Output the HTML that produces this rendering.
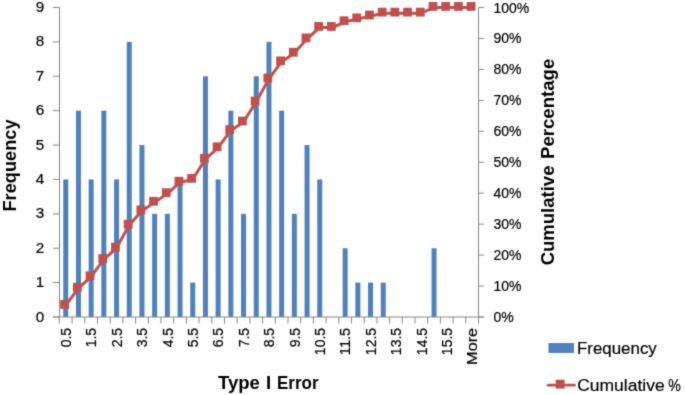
<!DOCTYPE html><html><head><meta charset="utf-8"><style>html,body{margin:0;padding:0;background:#fff;}svg{display:block;}text{font-family:"Liberation Sans",sans-serif;}</style></head><body>
<svg width="685" height="395" viewBox="0 0 685 395">
<defs><filter id="bl" filterUnits="userSpaceOnUse" x="-10" y="-10" width="705" height="415" color-interpolation-filters="sRGB"><feConvolveMatrix order="3" kernelMatrix="0.03 0.09 0.03 0.09 0.52 0.09 0.03 0.09 0.03" edgeMode="duplicate" preserveAlpha="true"/></filter></defs>
<g filter="url(#bl)">
<rect x="-10" y="-10" width="705" height="415" fill="#fff"/>
<rect x="63.25" y="179.44" width="5.0" height="137.56" fill="#4F81BD"/>
<rect x="75.95" y="110.67" width="5.0" height="206.33" fill="#4F81BD"/>
<rect x="88.65" y="179.44" width="5.0" height="137.56" fill="#4F81BD"/>
<rect x="101.35" y="110.67" width="5.0" height="206.33" fill="#4F81BD"/>
<rect x="114.05" y="179.44" width="5.0" height="137.56" fill="#4F81BD"/>
<rect x="126.75" y="41.89" width="5.0" height="275.11" fill="#4F81BD"/>
<rect x="139.45" y="145.06" width="5.0" height="171.94" fill="#4F81BD"/>
<rect x="152.15" y="213.83" width="5.0" height="103.17" fill="#4F81BD"/>
<rect x="164.85" y="213.83" width="5.0" height="103.17" fill="#4F81BD"/>
<rect x="177.55" y="179.44" width="5.0" height="137.56" fill="#4F81BD"/>
<rect x="190.25" y="282.61" width="5.0" height="34.39" fill="#4F81BD"/>
<rect x="202.95" y="76.28" width="5.0" height="240.72" fill="#4F81BD"/>
<rect x="215.65" y="179.44" width="5.0" height="137.56" fill="#4F81BD"/>
<rect x="228.35" y="110.67" width="5.0" height="206.33" fill="#4F81BD"/>
<rect x="241.05" y="213.83" width="5.0" height="103.17" fill="#4F81BD"/>
<rect x="253.75" y="76.28" width="5.0" height="240.72" fill="#4F81BD"/>
<rect x="266.45" y="41.89" width="5.0" height="275.11" fill="#4F81BD"/>
<rect x="279.15" y="110.67" width="5.0" height="206.33" fill="#4F81BD"/>
<rect x="291.85" y="213.83" width="5.0" height="103.17" fill="#4F81BD"/>
<rect x="304.55" y="145.06" width="5.0" height="171.94" fill="#4F81BD"/>
<rect x="317.25" y="179.44" width="5.0" height="137.56" fill="#4F81BD"/>
<rect x="342.65" y="248.22" width="5.0" height="68.78" fill="#4F81BD"/>
<rect x="355.35" y="282.61" width="5.0" height="34.39" fill="#4F81BD"/>
<rect x="368.05" y="282.61" width="5.0" height="34.39" fill="#4F81BD"/>
<rect x="380.75" y="282.61" width="5.0" height="34.39" fill="#4F81BD"/>
<rect x="431.55" y="248.22" width="5.0" height="68.78" fill="#4F81BD"/>
<g stroke="#868686" stroke-width="1" fill="none">
<line x1="59.5" y1="7.5" x2="59.5" y2="317.0"/>
<line x1="478.5" y1="7.5" x2="478.5" y2="317.0"/>
<line x1="53" y1="317.0" x2="484" y2="317.0"/>
<line x1="53" y1="317.00" x2="59.5" y2="317.00"/>
<line x1="53" y1="282.61" x2="59.5" y2="282.61"/>
<line x1="53" y1="248.22" x2="59.5" y2="248.22"/>
<line x1="53" y1="213.83" x2="59.5" y2="213.83"/>
<line x1="53" y1="179.44" x2="59.5" y2="179.44"/>
<line x1="53" y1="145.06" x2="59.5" y2="145.06"/>
<line x1="53" y1="110.67" x2="59.5" y2="110.67"/>
<line x1="53" y1="76.28" x2="59.5" y2="76.28"/>
<line x1="53" y1="41.89" x2="59.5" y2="41.89"/>
<line x1="53" y1="7.50" x2="59.5" y2="7.50"/>
<line x1="478.5" y1="317.00" x2="484" y2="317.00"/>
<line x1="478.5" y1="286.05" x2="484" y2="286.05"/>
<line x1="478.5" y1="255.10" x2="484" y2="255.10"/>
<line x1="478.5" y1="224.15" x2="484" y2="224.15"/>
<line x1="478.5" y1="193.20" x2="484" y2="193.20"/>
<line x1="478.5" y1="162.25" x2="484" y2="162.25"/>
<line x1="478.5" y1="131.30" x2="484" y2="131.30"/>
<line x1="478.5" y1="100.35" x2="484" y2="100.35"/>
<line x1="478.5" y1="69.40" x2="484" y2="69.40"/>
<line x1="478.5" y1="38.45" x2="484" y2="38.45"/>
<line x1="478.5" y1="7.50" x2="484" y2="7.50"/>
<line x1="59.40" y1="317.0" x2="59.40" y2="323.5"/>
<line x1="72.10" y1="317.0" x2="72.10" y2="323.5"/>
<line x1="84.80" y1="317.0" x2="84.80" y2="323.5"/>
<line x1="97.50" y1="317.0" x2="97.50" y2="323.5"/>
<line x1="110.20" y1="317.0" x2="110.20" y2="323.5"/>
<line x1="122.90" y1="317.0" x2="122.90" y2="323.5"/>
<line x1="135.60" y1="317.0" x2="135.60" y2="323.5"/>
<line x1="148.30" y1="317.0" x2="148.30" y2="323.5"/>
<line x1="161.00" y1="317.0" x2="161.00" y2="323.5"/>
<line x1="173.70" y1="317.0" x2="173.70" y2="323.5"/>
<line x1="186.40" y1="317.0" x2="186.40" y2="323.5"/>
<line x1="199.10" y1="317.0" x2="199.10" y2="323.5"/>
<line x1="211.80" y1="317.0" x2="211.80" y2="323.5"/>
<line x1="224.50" y1="317.0" x2="224.50" y2="323.5"/>
<line x1="237.20" y1="317.0" x2="237.20" y2="323.5"/>
<line x1="249.90" y1="317.0" x2="249.90" y2="323.5"/>
<line x1="262.60" y1="317.0" x2="262.60" y2="323.5"/>
<line x1="275.30" y1="317.0" x2="275.30" y2="323.5"/>
<line x1="288.00" y1="317.0" x2="288.00" y2="323.5"/>
<line x1="300.70" y1="317.0" x2="300.70" y2="323.5"/>
<line x1="313.40" y1="317.0" x2="313.40" y2="323.5"/>
<line x1="326.10" y1="317.0" x2="326.10" y2="323.5"/>
<line x1="338.80" y1="317.0" x2="338.80" y2="323.5"/>
<line x1="351.50" y1="317.0" x2="351.50" y2="323.5"/>
<line x1="364.20" y1="317.0" x2="364.20" y2="323.5"/>
<line x1="376.90" y1="317.0" x2="376.90" y2="323.5"/>
<line x1="389.60" y1="317.0" x2="389.60" y2="323.5"/>
<line x1="402.30" y1="317.0" x2="402.30" y2="323.5"/>
<line x1="415.00" y1="317.0" x2="415.00" y2="323.5"/>
<line x1="427.70" y1="317.0" x2="427.70" y2="323.5"/>
<line x1="440.40" y1="317.0" x2="440.40" y2="323.5"/>
<line x1="453.10" y1="317.0" x2="453.10" y2="323.5"/>
<line x1="465.80" y1="317.0" x2="465.80" y2="323.5"/>
<line x1="478.50" y1="317.0" x2="478.50" y2="323.5"/>
</g>
<polyline points="65.55,305.54 78.25,288.34 90.95,276.88 103.65,259.69 116.35,248.22 129.05,225.30 141.75,210.97 154.45,202.37 167.15,193.77 179.85,182.31 192.55,179.44 205.25,159.38 217.95,147.92 230.65,130.73 243.35,122.13 256.05,102.07 268.75,79.14 281.45,61.95 294.15,53.35 306.85,39.02 319.55,27.56 332.25,27.56 344.95,21.83 357.65,18.96 370.35,16.10 383.05,13.23 395.75,13.23 408.45,13.23 421.15,13.23 433.85,7.50 446.55,7.50 459.25,7.50 471.95,7.50" fill="none" stroke="#C0504D" stroke-width="3" stroke-linejoin="round"/>
<rect x="60.25" y="300.04" width="8.8" height="8.8" fill="#C0504D"/>
<rect x="72.95" y="282.84" width="8.8" height="8.8" fill="#C0504D"/>
<rect x="85.65" y="271.38" width="8.8" height="8.8" fill="#C0504D"/>
<rect x="98.35" y="254.19" width="8.8" height="8.8" fill="#C0504D"/>
<rect x="111.05" y="242.72" width="8.8" height="8.8" fill="#C0504D"/>
<rect x="123.75" y="219.80" width="8.8" height="8.8" fill="#C0504D"/>
<rect x="136.45" y="205.47" width="8.8" height="8.8" fill="#C0504D"/>
<rect x="149.15" y="196.87" width="8.8" height="8.8" fill="#C0504D"/>
<rect x="161.85" y="188.27" width="8.8" height="8.8" fill="#C0504D"/>
<rect x="174.55" y="176.81" width="8.8" height="8.8" fill="#C0504D"/>
<rect x="187.25" y="173.94" width="8.8" height="8.8" fill="#C0504D"/>
<rect x="199.95" y="153.88" width="8.8" height="8.8" fill="#C0504D"/>
<rect x="212.65" y="142.42" width="8.8" height="8.8" fill="#C0504D"/>
<rect x="225.35" y="125.23" width="8.8" height="8.8" fill="#C0504D"/>
<rect x="238.05" y="116.63" width="8.8" height="8.8" fill="#C0504D"/>
<rect x="250.75" y="96.57" width="8.8" height="8.8" fill="#C0504D"/>
<rect x="263.45" y="73.64" width="8.8" height="8.8" fill="#C0504D"/>
<rect x="276.15" y="56.45" width="8.8" height="8.8" fill="#C0504D"/>
<rect x="288.85" y="47.85" width="8.8" height="8.8" fill="#C0504D"/>
<rect x="301.55" y="33.52" width="8.8" height="8.8" fill="#C0504D"/>
<rect x="314.25" y="22.06" width="8.8" height="8.8" fill="#C0504D"/>
<rect x="326.95" y="22.06" width="8.8" height="8.8" fill="#C0504D"/>
<rect x="339.65" y="16.33" width="8.8" height="8.8" fill="#C0504D"/>
<rect x="352.35" y="13.46" width="8.8" height="8.8" fill="#C0504D"/>
<rect x="365.05" y="10.60" width="8.8" height="8.8" fill="#C0504D"/>
<rect x="377.75" y="7.73" width="8.8" height="8.8" fill="#C0504D"/>
<rect x="390.45" y="7.73" width="8.8" height="8.8" fill="#C0504D"/>
<rect x="403.15" y="7.73" width="8.8" height="8.8" fill="#C0504D"/>
<rect x="415.85" y="7.73" width="8.8" height="8.8" fill="#C0504D"/>
<rect x="428.55" y="2.00" width="8.8" height="8.8" fill="#C0504D"/>
<rect x="441.25" y="2.00" width="8.8" height="8.8" fill="#C0504D"/>
<rect x="453.95" y="2.00" width="8.8" height="8.8" fill="#C0504D"/>
<rect x="466.65" y="2.00" width="8.8" height="8.8" fill="#C0504D"/>
<g font-size="14" fill="#000" text-anchor="end" stroke="#000" stroke-width="0.2">
<text x="44.2" y="321.60" textLength="8.5" lengthAdjust="spacingAndGlyphs">0</text>
<text x="44.2" y="287.21" textLength="8.5" lengthAdjust="spacingAndGlyphs">1</text>
<text x="44.2" y="252.82" textLength="8.5" lengthAdjust="spacingAndGlyphs">2</text>
<text x="44.2" y="218.43" textLength="8.5" lengthAdjust="spacingAndGlyphs">3</text>
<text x="44.2" y="184.04" textLength="8.5" lengthAdjust="spacingAndGlyphs">4</text>
<text x="44.2" y="149.66" textLength="8.5" lengthAdjust="spacingAndGlyphs">5</text>
<text x="44.2" y="115.27" textLength="8.5" lengthAdjust="spacingAndGlyphs">6</text>
<text x="44.2" y="80.88" textLength="8.5" lengthAdjust="spacingAndGlyphs">7</text>
<text x="44.2" y="46.49" textLength="8.5" lengthAdjust="spacingAndGlyphs">8</text>
<text x="44.2" y="12.10" textLength="8.5" lengthAdjust="spacingAndGlyphs">9</text>
</g>
<g font-size="14" fill="#000" stroke="#000" stroke-width="0.2">
<text x="493.5" y="322.00">0%</text>
<text x="493.5" y="291.05">10%</text>
<text x="493.5" y="260.10">20%</text>
<text x="493.5" y="229.15">30%</text>
<text x="493.5" y="198.20">40%</text>
<text x="493.5" y="167.25">50%</text>
<text x="493.5" y="136.30">60%</text>
<text x="493.5" y="105.35">70%</text>
<text x="493.5" y="74.40">80%</text>
<text x="493.5" y="43.45">90%</text>
<text x="493.5" y="12.50">100%</text>
</g>
<g font-size="14.8" fill="#000" text-anchor="end" stroke="#000" stroke-width="0.2">
<text transform="translate(70.95,327.9) rotate(-90)" textLength="19.46" lengthAdjust="spacingAndGlyphs">0.5</text>
<text transform="translate(96.35,327.9) rotate(-90)" textLength="19.46" lengthAdjust="spacingAndGlyphs">1.5</text>
<text transform="translate(121.75,327.9) rotate(-90)" textLength="19.46" lengthAdjust="spacingAndGlyphs">2.5</text>
<text transform="translate(147.15,327.9) rotate(-90)" textLength="19.46" lengthAdjust="spacingAndGlyphs">3.5</text>
<text transform="translate(172.55,327.9) rotate(-90)" textLength="19.46" lengthAdjust="spacingAndGlyphs">4.5</text>
<text transform="translate(197.95,327.9) rotate(-90)" textLength="19.46" lengthAdjust="spacingAndGlyphs">5.5</text>
<text transform="translate(223.35,327.9) rotate(-90)" textLength="19.46" lengthAdjust="spacingAndGlyphs">6.5</text>
<text transform="translate(248.75,327.9) rotate(-90)" textLength="19.46" lengthAdjust="spacingAndGlyphs">7.5</text>
<text transform="translate(274.15,327.9) rotate(-90)" textLength="19.46" lengthAdjust="spacingAndGlyphs">8.5</text>
<text transform="translate(299.55,327.9) rotate(-90)" textLength="19.46" lengthAdjust="spacingAndGlyphs">9.5</text>
<text transform="translate(324.95,327.9) rotate(-90)" textLength="27.24" lengthAdjust="spacingAndGlyphs">10.5</text>
<text transform="translate(350.35,327.9) rotate(-90)" textLength="27.24" lengthAdjust="spacingAndGlyphs">11.5</text>
<text transform="translate(375.75,327.9) rotate(-90)" textLength="27.24" lengthAdjust="spacingAndGlyphs">12.5</text>
<text transform="translate(401.15,327.9) rotate(-90)" textLength="27.24" lengthAdjust="spacingAndGlyphs">13.5</text>
<text transform="translate(426.55,327.9) rotate(-90)" textLength="27.24" lengthAdjust="spacingAndGlyphs">14.5</text>
<text transform="translate(451.95,327.9) rotate(-90)" textLength="27.24" lengthAdjust="spacingAndGlyphs">15.5</text>
<text transform="translate(477.35,327.9) rotate(-90)" textLength="37.00" lengthAdjust="spacingAndGlyphs">More</text>
</g>
<text transform="translate(15.8,211.5) rotate(-90)" font-size="18.5" font-weight="bold" textLength="92" lengthAdjust="spacingAndGlyphs" fill="#000">Frequency</text>
<text transform="translate(554.3,265.3) rotate(-90)" font-size="18.5" font-weight="bold" fill="#000">Cumulative</text>
<text transform="translate(554.3,159) rotate(-90)" font-size="18.5" font-weight="bold" textLength="100.3" lengthAdjust="spacingAndGlyphs" fill="#000">Percentage</text>
<text x="218" y="388.6" font-size="18.5" font-weight="bold" fill="#000">Type</text>
<text x="266" y="388.6" font-size="18.5" font-weight="bold" fill="#000">I</text>
<text x="277" y="388.6" font-size="18.5" font-weight="bold" textLength="41.6" lengthAdjust="spacingAndGlyphs" fill="#000">Error</text>
<text x="577" y="354" font-size="16.9" stroke="#000" stroke-width="0.2" fill="#000">Frequency</text>
<text x="577.2" y="390.6" font-size="16.9" stroke="#000" stroke-width="0.2" textLength="87.5" lengthAdjust="spacingAndGlyphs" fill="#000">Cumulative</text>
<text x="668.3" y="390.6" font-size="16.9" stroke="#000" stroke-width="0.2" textLength="12.6" lengthAdjust="spacingAndGlyphs" fill="#000">%</text>
<rect x="548.5" y="343" width="25.5" height="10" fill="#4F81BD"/>
<line x1="548" y1="385.2" x2="574.5" y2="385.2" stroke="#C0504D" stroke-width="2.7" stroke-linecap="round"/>
<rect x="555.7" y="379.7" width="8.9" height="8.9" fill="#C0504D"/>
</g></svg></body></html>
